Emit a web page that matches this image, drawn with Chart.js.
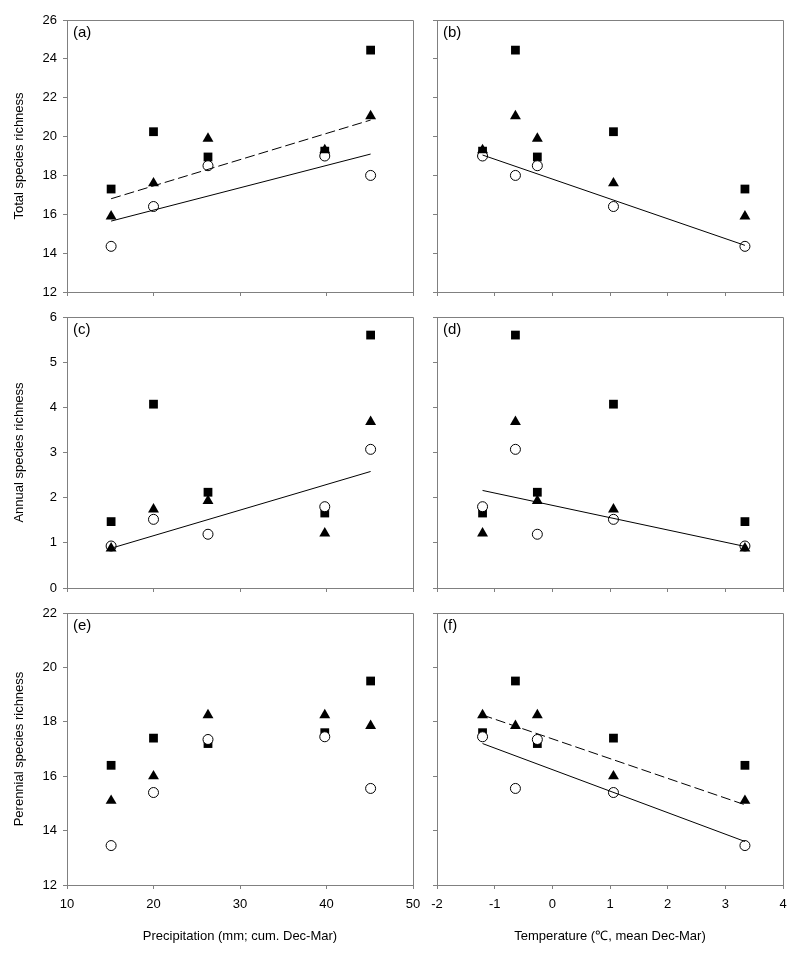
<!DOCTYPE html>
<html>
<head>
<meta charset="utf-8">
<script src="https://cdn.jsdelivr.net/npm/chart.js@4.4.1/dist/chart.umd.min.js"></script>
<style>
  html, body { margin: 0; padding: 0; background: #fff; }
  #wrap { position: relative; width: 800px; height: 958px; }
  canvas { position: absolute; }
</style>
</head>
<body>
<div id="wrap">
  <canvas id="pa" width="420" height="300" style="left:0;top:0"></canvas>
  <canvas id="pb" width="380" height="300" style="left:420px;top:0"></canvas>
  <canvas id="pc" width="420" height="300" style="left:0;top:300px"></canvas>
  <canvas id="pd" width="380" height="300" style="left:420px;top:300px"></canvas>
  <canvas id="pe" width="420" height="358" style="left:0;top:600px"></canvas>
  <canvas id="pf" width="380" height="358" style="left:420px;top:600px"></canvas>
</div>
<script>
/* ---- data (five sites, same order in every array) ---- */
const precip = [15.1, 20.0, 26.3, 39.8, 45.1];   // mm, cum. Dec-Mar
const temp = [3.34, 1.06, -0.26, -1.21, -0.64];  // degC, mean Dec-Mar

const totalSq   = [17.3, 20.25, 18.95, 19.25, 24.45];
const totalTri  = [15.9, 17.6, 19.9, 19.3, 21.05];
const totalCirc = [14.35, 16.4, 18.5, 19.0, 18.0];

const annualSq   = [1.47, 4.07, 2.12, 1.66, 5.6];
const annualTri  = [0.88, 1.74, 1.93, 1.21, 3.68];
const annualCirc = [0.93, 1.52, 1.19, 1.8, 3.07];

const perenSq   = [16.4, 17.4, 17.2, 17.6, 19.5];
const perenTri  = [15.1, 16.0, 18.25, 18.25, 17.85];
const perenCirc = [13.45, 15.4, 17.35, 17.45, 15.55];

// regression line end points
const precipFitX = [15.1, 45.1];
const tempFitX = [-1.21, 3.34];
const fitA_dash = [16.8, 20.85];
const fitA_solid = [15.65, 19.1];
const fitB_solid = [19.05, 14.4];
const fitC_solid = [0.88, 2.58];
const fitD_solid = [2.16, 0.92];
const fitF_dash = [18.25, 14.95];
const fitF_solid = [17.2, 13.6];

const precipTicks = [10, 50, 10];  // min, max, step
const tempTicks = [-2, 4, 1];

const FONT = "'Liberation Sans', Arial, sans-serif";
const GREY = '#808080';

function pts(xs, ys) {
    return xs.map((x, i) => ({ x: x, y: ys[i] }));
}

function fitLine(xs, ys, dashed) {
    return {
        type: 'line',
        data: pts(xs, ys),
        showLine: true,
        borderColor: '#000',
        borderWidth: 1,
        borderDash: dashed ? [10, 4] : [],
        pointRadius: 0,
        fill: false
    };
}

function markers(xs, sq, tri, circ) {
    return [
        { data: pts(xs, tri), pointStyle: 'triangle', pointRadius: 6.3,
          backgroundColor: '#000', borderColor: '#000', borderWidth: 0 },
        { data: pts(xs, circ), pointStyle: 'circle', pointRadius: 5,
          backgroundColor: '#fff', borderColor: '#000', borderWidth: 1 },
        { data: pts(xs, sq), pointStyle: 'rect', pointRadius: 6.2,
          backgroundColor: '#000', borderColor: '#000', borderWidth: 0 }
    ];
}

// frame + panel letter
const framePlugin = {
    id: 'frame',
    afterDraw(chart, args, opts) {
        const { ctx, chartArea: a } = chart;
        ctx.save();
        ctx.strokeStyle = GREY;
        ctx.lineWidth = 1;
        ctx.beginPath();
        ctx.moveTo(Math.round(a.left) + 0.5, Math.round(a.top) + 0.5);
        ctx.lineTo(Math.round(a.right) + 0.5, Math.round(a.top) + 0.5);
        ctx.lineTo(Math.round(a.right) + 0.5, Math.round(a.bottom) + 0.5);
        ctx.stroke();
        ctx.fillStyle = '#000';
        ctx.font = '15px ' + FONT;
        ctx.textBaseline = 'middle';
        ctx.fillText(opts.label, a.left + 6, a.top + 13);
        ctx.restore();
    }
};

function makePanel(id, cfg) {
    const [xmin, xmax, xstep] = cfg.xTicks;
    const [ymin, ymax, ystep] = cfg.yTicks;
    const axisGrid = { drawOnChartArea: false, drawTicks: true, tickLength: 4, color: GREY };
    const tickFont = { family: FONT, size: 13 };

    new Chart(document.getElementById(id), {
        type: 'scatter',
        data: { datasets: cfg.datasets },
        options: {
            responsive: false,
            animation: false,
            events: [],
            layout: { padding: { top: cfg.padTop, right: cfg.padRight, bottom: 0, left: 0 } },
            plugins: {
                legend: { display: false },
                tooltip: { enabled: false },
                frame: { label: cfg.label }
            },
            scales: {
                x: {
                    type: 'linear',
                    min: xmin, max: xmax,
                    grid: axisGrid,
                    border: { color: GREY, width: 1 },
                    ticks: { stepSize: xstep, display: cfg.xLabels, color: '#000', font: tickFont, padding: 8, maxRotation: 0 },
                    title: {
                        display: !!cfg.xTitle,
                        text: cfg.xTitle || '',
                        color: '#000',
                        font: { family: FONT, size: 13 },
                        padding: { top: 0, bottom: 14 }
                    },
                    afterFit: s => {
                        s.height = cfg.xHeight;
                        s.paddingLeft = 0;
                        s.paddingRight = 0;
                    }
                },
                y: {
                    type: 'linear',
                    min: ymin, max: ymax,
                    grid: axisGrid,
                    border: { color: GREY, width: 1 },
                    ticks: { stepSize: ystep, display: cfg.yLabels, color: '#000', font: tickFont, padding: 6 },
                    title: {
                        display: !!cfg.yTitle,
                        text: cfg.yTitle || '',
                        color: '#000',
                        font: { family: FONT, size: 13 },
                        padding: { top: 12, bottom: 0 }
                    },
                    afterFit: s => {
                        s.width = cfg.yWidth;
                        s.paddingTop = 0;
                        s.paddingBottom = 0;
                    }
                }
            }
        },
        plugins: [framePlugin]
    });
}

const left = { xTicks: precipTicks, yLabels: true, yWidth: 67, padRight: 7 };
const right = { xTicks: tempTicks, yLabels: false, yWidth: 17, padRight: 17 };
const row1 = { padTop: 20, xHeight: 8, xLabels: false };
const row2 = { padTop: 17, xHeight: 12, xLabels: false };
const row3 = { padTop: 13, xHeight: 73, xLabels: true };

makePanel('pa', Object.assign({}, left, row1, {
    label: '(a)', yTicks: [12, 26, 2], yTitle: 'Total species richness',
    datasets: [fitLine(precipFitX, fitA_dash, true), fitLine(precipFitX, fitA_solid, false)]
        .concat(markers(precip, totalSq, totalTri, totalCirc))
}));
makePanel('pb', Object.assign({}, right, row1, {
    label: '(b)', yTicks: [12, 26, 2],
    datasets: [fitLine(tempFitX, fitB_solid, false)]
        .concat(markers(temp, totalSq, totalTri, totalCirc))
}));
makePanel('pc', Object.assign({}, left, row2, {
    label: '(c)', yTicks: [0, 6, 1], yTitle: 'Annual species richness',
    datasets: [fitLine(precipFitX, fitC_solid, false)]
        .concat(markers(precip, annualSq, annualTri, annualCirc))
}));
makePanel('pd', Object.assign({}, right, row2, {
    label: '(d)', yTicks: [0, 6, 1],
    datasets: [fitLine(tempFitX, fitD_solid, false)]
        .concat(markers(temp, annualSq, annualTri, annualCirc))
}));
makePanel('pe', Object.assign({}, left, row3, {
    label: '(e)', yTicks: [12, 22, 2], yTitle: 'Perennial species richness',
    xTitle: 'Precipitation (mm; cum. Dec-Mar)',
    datasets: markers(precip, perenSq, perenTri, perenCirc)
}));
makePanel('pf', Object.assign({}, right, row3, {
    label: '(f)', yTicks: [12, 22, 2],
    xTitle: 'Temperature (\u2103, mean Dec-Mar)',
    datasets: [fitLine(tempFitX, fitF_dash, true), fitLine(tempFitX, fitF_solid, false)]
        .concat(markers(temp, perenSq, perenTri, perenCirc))
}));
</script>
</body>
</html>
